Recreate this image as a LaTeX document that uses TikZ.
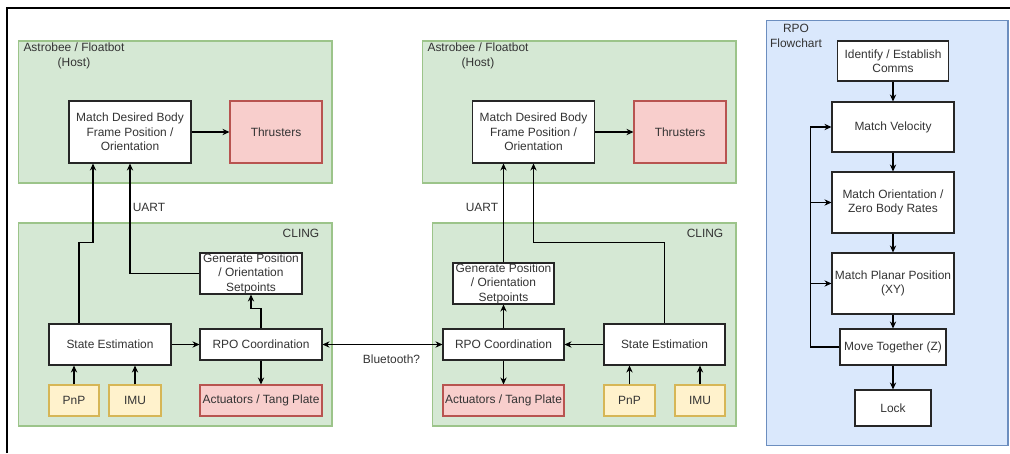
\documentclass[tikz,border=0pt]{standalone}
\usepackage{fontspec}
\setmainfont{Liberation Sans}
\usetikzlibrary{arrows.meta}
\definecolor{grpfill}{HTML}{D5E8D4}
\definecolor{grpline}{HTML}{9CC48A}
\definecolor{hotfill}{HTML}{F8CECC}
\definecolor{hotline}{HTML}{B85450}
\definecolor{sensfill}{HTML}{FFF2CC}
\definecolor{sensline}{HTML}{D6B656}
\definecolor{flowfill}{HTML}{DAE8FC}
\definecolor{flowline}{HTML}{6C8EBF}
\definecolor{txt}{HTML}{333333}

\begin{document}
\begin{tikzpicture}[x=0.02cm, y=-0.02cm, line width=0.6pt, >={Stealth[length=4pt,width=3.6pt]},
    font=\fontsize{6.8}{8.2}\selectfont, text=txt,
    grp/.style={draw=grpline, fill=grpfill, inner sep=0},
    flowgrp/.style={draw=flowline, fill=flowfill, inner sep=0},
    blk/.style={draw=black!85, fill=white, align=center, inner sep=0},
    hot/.style={draw=hotline, fill=hotfill, align=center, inner sep=0},
    sens/.style={draw=sensline, fill=sensfill, align=center, inner sep=0},
    lbl/.style={align=center, inner sep=0}]
  \useasboundingbox (0,0) rectangle (1010,453);
  \draw[line width=1.2pt] (7,453) -- (7,8) -- (1010,8);

  \node[grp, minimum width=6.28cm, minimum height=2.84cm] (hostl) at (175,112) {};
  \node[grp, minimum width=6.28cm, minimum height=4.06cm] (clingl) at (175,324.5) {};
  \node[grp, minimum width=6.28cm, minimum height=2.84cm] (hostr) at (579,112) {};
  \node[grp, minimum width=6.08cm, minimum height=4.06cm] (clingr) at (584,324.5) {};
  \node[flowgrp, minimum width=4.84cm, minimum height=8.52cm] (flow) at (887,233) {};

  \node[lbl] (hostltxt) at (74,56) {Astrobee / Floatbot\\(Host)};
  \node[lbl] (clingltxt) at (301,233) {CLING};
  \node[lbl] (hostrtxt) at (478,56) {Astrobee / Floatbot\\(Host)};
  \node[lbl] (clingrtxt) at (705,233) {CLING};
  \node[lbl] (flowtxt) at (796,36) {RPO\\Flowchart};
  \node[lbl] (uartl) at (149,207) {UART};
  \node[lbl] (uartr) at (482,207) {UART};
  \node[lbl] (bt) at (391.5,359) {Bluetooth?};

  \node[blk, minimum width=2.44cm, minimum height=1.24cm] (matchl) at (130,132) {Match Desired Body\\Frame Position /\\Orientation};
  \node[hot, minimum width=1.84cm, minimum height=1.24cm] (thrl) at (276,132) {Thrusters};
  \node[blk, minimum width=2.04cm, minimum height=0.82cm] (genl) at (251,273.5) {Generate Position\\/ Orientation\\Setpoints};
  \node[blk, minimum width=2.44cm, minimum height=0.82cm] (statel) at (110,344.5) {State Estimation};
  \node[blk, minimum width=2.44cm, minimum height=0.62cm] (rpol) at (261,344.5) {RPO Coordination};
  \node[sens, minimum width=1.0cm, minimum height=0.62cm] (pnpl) at (74,400.5) {PnP};
  \node[sens, minimum width=1.04cm, minimum height=0.62cm] (imul) at (135,400.5) {IMU};
  \node[hot, minimum width=2.44cm, minimum height=0.62cm] (actl) at (261,400.5) {Actuators / Tang Plate};

  \node[blk, minimum width=2.44cm, minimum height=1.24cm] (matchr) at (533.5,132) {Match Desired Body\\Frame Position /\\Orientation};
  \node[hot, minimum width=1.84cm, minimum height=1.24cm] (thrr) at (680,132) {Thrusters};
  \node[blk, minimum width=2.02cm, minimum height=0.82cm] (genr) at (503.5,283.5) {Generate Position\\/ Orientation\\Setpoints};
  \node[blk, minimum width=2.42cm, minimum height=0.62cm] (rpor) at (503.5,344.5) {RPO Coordination};
  \node[blk, minimum width=2.42cm, minimum height=0.82cm] (stater) at (664.5,344.5) {State Estimation};
  \node[hot, minimum width=2.42cm, minimum height=0.62cm] (actr) at (503.5,400.5) {Actuators / Tang Plate};
  \node[sens, minimum width=1.02cm, minimum height=0.62cm] (pnpr) at (629.5,400.5) {PnP};
  \node[sens, minimum width=1.0cm, minimum height=0.62cm] (imur) at (700,400.5) {IMU};

  \node[blk, minimum width=2.22cm, minimum height=0.8cm] (idf) at (893,61) {Identify / Establish\\Comms};
  \node[blk, minimum width=2.44cm, minimum height=1.0cm] (vel) at (893,127) {Match Velocity};
  \node[blk, minimum width=2.44cm, minimum height=1.22cm] (ori) at (893,202.5) {Match Orientation /\\Zero Body Rates};
  \node[blk, minimum width=2.44cm, minimum height=1.22cm] (pla) at (893,283.5) {Match Planar Position\\(XY)};
  \node[blk, minimum width=2.12cm, minimum height=0.72cm] (mov) at (893,347) {Move Together (Z)};
  \node[blk, minimum width=1.52cm, minimum height=0.72cm] (lck) at (893,408) {Lock};

  \draw[->] (matchl) -- (thrl);
  \draw[->] (pnpl) -- (pnpl |- statel.south);
  \draw[->] (imul) -- (imul |- statel.south);
  \draw[->] (statel) -- (rpol);
  \draw[->] (rpol) -- (actl);
  \draw[->] (rpol.north) -- ++(0,-20) -| (genl.south);
  \draw[->] (genl.west) -| (matchl.south);
  \draw[->] ([xshift=-0.62cm]statel.north) -- ++(0,-81) -| ([xshift=-0.74cm]matchl.south);
  \draw[<->] (rpol) -- (rpor);

  \draw[->] (matchr) -- (thrr);
  \draw[->] (genr) -- (genr |- matchr.south);
  \draw[->] (stater.north) -- ++(0,-81) -| (matchr.south);
  \draw[->] (rpor) -- (genr);
  \draw[->] (rpor) -- (actr);
  \draw[->] (stater) -- (rpor);
  \draw[->] (pnpr) -- (pnpr |- stater.south);
  \draw[->] (imur) -- (imur |- stater.south);

  \draw[->] (idf) -- (vel);
  \draw[->] (vel) -- (ori);
  \draw[->] (ori) -- (pla);
  \draw[->] (pla) -- (mov);
  \draw[->] (mov) -- (lck);
  \draw[->] (mov.west) -- ++(-29,0) |- (vel.west);
  \draw[->] ([xshift=-0.42cm]ori.west) -- (ori.west);
  \draw[->] ([xshift=-0.42cm]pla.west) -- (pla.west);
\end{tikzpicture}
\end{document}
